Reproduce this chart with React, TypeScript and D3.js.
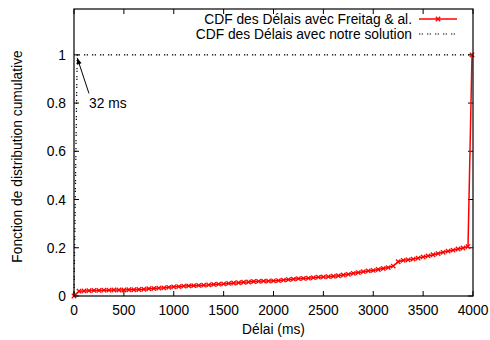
import React from "react";
import * as d3 from "d3";

const W = 490;
const H = 340;

// Red series: CDF of delays with Freitag & al. (ms, cumulative fraction)
const freitagDelays = [
  0, 50, 100, 150, 200, 250, 300, 350, 400, 450, 500, 550, 600, 650, 700, 750, 800, 850, 900, 950,
  1000, 1050, 1100, 1150, 1200, 1250, 1300, 1350, 1400, 1450, 1500, 1550, 1600, 1650, 1700, 1750,
  1800, 1850, 1900, 1950, 2000, 2050, 2100, 2150, 2200, 2250, 2300, 2350, 2400, 2450, 2500, 2550,
  2600, 2650, 2700, 2750, 2800, 2850, 2900, 2950, 3000, 3050, 3100, 3150, 3200, 3250, 3300, 3350,
  3400, 3450, 3500, 3550, 3600, 3650, 3700, 3750, 3800, 3850, 3900, 3950, 3990,
];
const freitagCdf = [
  0, 0.02, 0.021, 0.022, 0.023, 0.023, 0.024, 0.024, 0.025, 0.025, 0.025, 0.026, 0.026, 0.027, 0.028, 0.03, 0.031, 0.033, 0.034, 0.036,
  0.038, 0.039, 0.041, 0.042, 0.043, 0.044, 0.045, 0.046, 0.048, 0.049, 0.05, 0.052, 0.054, 0.055, 0.057, 0.058,
  0.06, 0.061, 0.062, 0.062, 0.063, 0.064, 0.066, 0.068, 0.07, 0.072, 0.073, 0.074, 0.076, 0.078, 0.079, 0.08,
  0.082, 0.084, 0.087, 0.09, 0.094, 0.097, 0.101, 0.104, 0.106, 0.11, 0.114, 0.118, 0.124, 0.142, 0.148, 0.15,
  0.153, 0.157, 0.162, 0.166, 0.171, 0.176, 0.181, 0.186, 0.19, 0.195, 0.199, 0.205, 1.0,
];

// Black dotted series: CDF of delays with our solution
const notreDelays = [0, 32, 4000];
const notreCdf = [0, 1, 1];

const xTicks = [0, 500, 1000, 1500, 2000, 2500, 3000, 3500, 4000];
const yTicks = [0, 0.2, 0.4, 0.6, 0.8, 1];
const yTickLabels = ["0", "0.2", "0.4", "0.6", "0.8", "1"];

const legendLabels = [
  "CDF des Délais avec Freitag & al.",
  "CDF des Délais avec notre solution",
];
const xTitle = "Délai (ms)";
const yTitle = "Fonction de distribution cumulative";
const annotation = "32 ms";

export default function App() {
  const left = 74, right = 473, top = 9, bottom = 296;
  const x = d3.scaleLinear().domain([0, 4000]).range([left, right]);
  const y = d3.scaleLinear().domain([0, 1.19]).range([bottom, top]);

  const line = d3
    .line<[number, number]>()
    .x((d) => x(d[0]))
    .y((d) => y(d[1]));

  const red: [number, number][] = freitagDelays.map((d, i) => [d, freitagCdf[i]]);
  const black: [number, number][] = notreDelays.map((d, i) => [d, notreCdf[i]]);

  const font = "'Liberation Sans', Arial, sans-serif";
  const fs = 13.8;
  const ms = 2.2;
  const marker = (cx: number, cy: number, k: string) => (
    <path
      key={k}
      d={`M${cx - ms},${cy - ms}L${cx + ms},${cy + ms}M${cx - ms},${cy + ms}L${cx + ms},${cy - ms}`}
      stroke="#ff0000"
      strokeWidth={1.3}
      fill="none"
    />
  );

  const tl = 5;
  const ax = x(32), ay = y(1) + 3;
  const bx = x(150), by = y(0.84);
  const ang = Math.atan2(ay - by, ax - bx);
  const hl = 7, hw = 0.35;
  const dots = "1.3,1.4,1.3,4";

  return (
    <svg width={W} height={H} style={{ position: "absolute", left: 0, top: 0 }} fontFamily={font}>
      <rect width={W} height={H} fill="#fff" />
      {/* ticks */}
      {xTicks.map((t) => (
        <g key={"xt" + t}>
          <line x1={x(t)} x2={x(t)} y1={bottom} y2={bottom - tl} stroke="#000" />
          <line x1={x(t)} x2={x(t)} y1={top} y2={top + tl} stroke="#000" />
          <text x={x(t)} y={bottom + 19} fontSize={fs} textAnchor="middle">{t}</text>
        </g>
      ))}
      {yTicks.map((t, i) => (
        <g key={"yt" + t}>
          <line x1={left} x2={left + tl} y1={y(t)} y2={y(t)} stroke="#000" />
          <line x1={right} x2={right - tl} y1={y(t)} y2={y(t)} stroke="#000" />
          <text x={left - 8} y={y(t) + 5} fontSize={fs} textAnchor="end">{yTickLabels[i]}</text>
        </g>
      ))}
      {/* series */}
      <path d={line(black) || ""} fill="none" stroke="#000" strokeWidth={1.2} strokeDasharray={dots} />
      <path d={line(red) || ""} fill="none" stroke="#ff0000" strokeWidth={1.5} />
      {red.map((d, i) => marker(x(d[0]), y(d[1]), "m" + i))}
      {/* border */}
      <rect x={left} y={top} width={right - left} height={bottom - top} fill="none" stroke="#000" strokeWidth={1.2} />
      {/* annotation arrow */}
      <line x1={bx} y1={by} x2={ax} y2={ay} stroke="#000" strokeWidth={1} />
      <path
        d={`M${ax},${ay}L${ax - hl * Math.cos(ang - hw)},${ay - hl * Math.sin(ang - hw)}L${ax - hl * Math.cos(ang + hw)},${ay - hl * Math.sin(ang + hw)}Z`}
        fill="#000"
      />
      <text x={x(150)} y={y(0.8) + 5} fontSize={fs}>{annotation}</text>
      {/* legend */}
      <text x={412} y={24} fontSize={fs} textAnchor="end">{legendLabels[0]}</text>
      <line x1={419} x2={457} y1={19} y2={19} stroke="#ff0000" strokeWidth={1.5} />
      {marker(438, 19, "lm")}
      <text x={412} y={39} fontSize={fs} textAnchor="end">{legendLabels[1]}</text>
      <line x1={419} x2={457} y1={34} y2={34} stroke="#000" strokeWidth={1.2} strokeDasharray={dots} />
      {/* axis titles */}
      <text x={(left + right) / 2} y={334} fontSize={fs} textAnchor="middle">{xTitle}</text>
      <text
        transform={`translate(22,${(top + bottom) / 2 + 4}) rotate(-90)`}
        fontSize={fs}
        textAnchor="middle"
      >
        {yTitle}
      </text>
    </svg>
  );
}
